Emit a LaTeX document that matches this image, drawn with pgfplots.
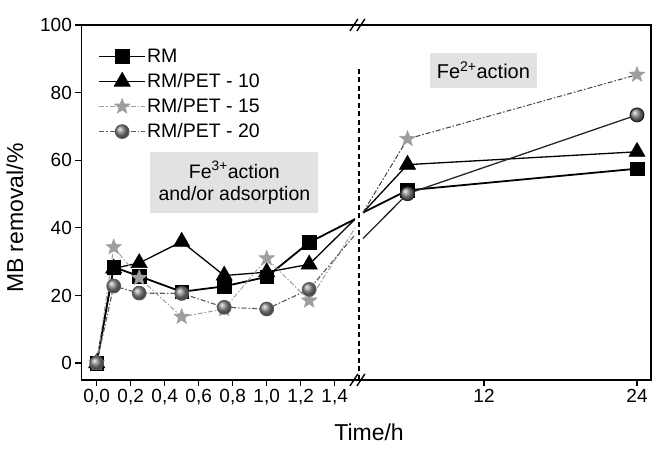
\documentclass[border=0pt]{standalone}
\usepackage{fontspec}
\setmainfont{Liberation Sans}
\usepackage{pgfplots}
\pgfplotsset{compat=1.18}
\definecolor{starcol}{HTML}{9E9E9E}
\definecolor{circcol}{HTML}{8A8A8A}
\definecolor{boxgray}{HTML}{E2E2E2}
\pgfdeclareplotmark{fstar}{%
  \pgfpathmoveto{\pgfpointpolar{90}{\pgfplotmarksize}}%
  \pgfpathlineto{\pgfpointpolar{126}{0.42\pgfplotmarksize}}%
  \pgfpathlineto{\pgfpointpolar{162}{\pgfplotmarksize}}%
  \pgfpathlineto{\pgfpointpolar{198}{0.42\pgfplotmarksize}}%
  \pgfpathlineto{\pgfpointpolar{234}{\pgfplotmarksize}}%
  \pgfpathlineto{\pgfpointpolar{270}{0.42\pgfplotmarksize}}%
  \pgfpathlineto{\pgfpointpolar{306}{\pgfplotmarksize}}%
  \pgfpathlineto{\pgfpointpolar{342}{0.42\pgfplotmarksize}}%
  \pgfpathlineto{\pgfpointpolar{18}{\pgfplotmarksize}}%
  \pgfpathlineto{\pgfpointpolar{54}{0.42\pgfplotmarksize}}%
  \pgfpathclose
  \pgfusepathqfillstroke}
\pgfplotsset{
  common/.style={
    scale only axis, height=355pt, ymin=-5, ymax=100,
    axis line style={draw=none},
    tick style={line width=1.2pt, black},
    major tick length=6pt,
    tick align=outside,
    xtick pos=bottom,
    ticklabel style={font=\fontsize{19}{21}\selectfont},
    legend image code/.code={%
      \draw[##1, mark=none] (0pt,0pt) -- (46pt,0pt);
      \draw[##1] plot coordinates {(23pt,0pt)};},
  },
  sRM/.style={black, line width=1.8pt, mark=square*, mark size=6.8pt, mark options={solid, fill=black, line width=0.6pt}},
  s10/.style={black, line width=1.3pt, mark=triangle*, mark size=9.3pt, mark options={solid, fill=black, line width=0.6pt}},
  s15/.style={starcol, line width=1pt, dash pattern=on 5pt off 2pt on 1.5pt off 2pt, mark=fstar, mark size=8.3pt, mark options={solid, fill=starcol, draw=starcol, line width=0.4pt}},
  s20/.style={black!65, line width=1.1pt, dash pattern=on 5pt off 2pt on 1.5pt off 2pt, mark=ball, mark size=6.8pt, mark options={solid, ball color=circcol}},
}
\begin{document}
\begin{tikzpicture}[x=1pt,y=1pt]
\useasboundingbox (-81.4,-78) rectangle (580.6,380);
% ---------- left part of the broken time axis (0 - 1.5 h)
\begin{axis}[common, name=L, at={(0pt,0pt)}, anchor=south west,
  width=273.7pt, xmin=-0.09, xmax=1.52,
  xtick={0,0.2,0.4,0.6,0.8,1.0,1.2,1.4},
  xticklabels={{0,0},{0,2},{0,4},{0,6},{0,8},{1,0},{1,2},{1,4}},
  ytick={0,20,40,60,80,100}, yticklabels={0,20,40,60,80,100},
  ytick pos=left,
  xlabel={Time/h},
  xlabel style={at={(axis description cs:1.051,-0.146)}, anchor=center, font=\fontsize{23}{26}\selectfont},
  ylabel={MB removal/\%},
  ylabel style={at={(axis description cs:-0.243,0.456)}, anchor=center, font=\fontsize{23}{26}\selectfont},
  legend style={at={(axis description cs:0.05,0.944)}, anchor=north west, draw=none, fill=none,
    font=\fontsize{19.5}{22}\selectfont, row sep=6pt,
    nodes={inner sep=1pt, text height=14pt, text depth=3pt},
    /tikz/every even column/.append style={column sep=5pt}},
  legend cell align=left,
]
\addplot[sRM, mark indices={1,2,3,4,5,6,7}] coordinates {(0,0) (0.1,28.4) (0.25,25.7) (0.5,21.1) (0.75,22.7) (1.0,25.5) (1.25,35.7) (1.52,42.6)};
\addlegendentry{RM}
\addplot[s10, mark indices={1,2,3,4,5,6,7}] coordinates {(0,0) (0.1,28.0) (0.25,29.6) (0.5,35.9) (0.75,25.9) (1.0,26.9) (1.25,29.2) (1.52,42.6)};
\addlegendentry{RM/PET - 10}
\addplot[s15, mark indices={1,2,3,4,5,6,7}] coordinates {(0,0) (0.1,34.3) (0.25,25.2) (0.5,13.7) (0.75,16.0) (1.0,31.0) (1.25,18.5) (1.52,40.0)};
\addlegendentry{RM/PET - 15}
\addplot[s20, mark indices={1,2,3,4,5,6,7}] coordinates {(0,0) (0.1,22.8) (0.25,20.7) (0.5,20.6) (0.75,16.5) (1.0,16.0) (1.25,21.8) (1.52,38.0)};
\addlegendentry{RM/PET - 20}
\pgfplotsinvokeforeach{0,0.2,0.4,0.6,0.8,1.0,1.2,1.4}{\draw[line width=1.2pt] (axis cs:#1,100) -- ++(0,-7pt);}
\node[fill=boxgray, minimum width=168pt, minimum height=61pt, align=center, inner sep=0pt,
  font=\fontsize{19.5}{22}\selectfont] at (axis cs:0.81,53.3) {Fe\textsuperscript{3+}action\\and/or adsorption};
\end{axis}
% ---------- right part of the broken time axis (2.5 - 25 h)
\begin{axis}[common, name=R, at={(281.5pt,0pt)}, anchor=south west,
  width=288.15pt, xmin=2.5, xmax=25.1,
  xtick={12,24}, xticklabels={12,24},
  ytick=\empty,
]
\addplot[sRM, mark indices={2,3}] coordinates {(2.5,44.5) (6,51.1) (24,57.5)};
\addplot[s10, mark indices={2,3}] coordinates {(2.5,44.5) (6,58.7) (24,62.5)};
\addplot[s15, black!75, mark indices={2,3}] coordinates {(2.5,44.5) (6,66.3) (24,85.3)};
\addplot[s20, solid, black!85, line width=1.3pt, mark indices={2,3}] coordinates {(2.5,36.8) (6,50.1) (24,73.4)};
\pgfplotsinvokeforeach{12,24}{\draw[line width=1.2pt] (axis cs:#1,100) -- ++(0,-7pt);}
\node[fill=boxgray, minimum width=107pt, minimum height=35pt, align=center, inner sep=0pt,
  font=\fontsize{20}{22}\selectfont] at (axis cs:11.95,86.6) {Fe\textsuperscript{2+}action};
\end{axis}
% frame, break marks and the dashed separator
\draw[line width=1.6pt] (0,0) rectangle (569.65,355);
\foreach \xx in {272.5,279.5} {
  \draw[line width=1.4pt] (\xx-4,-6) -- (\xx+4,6);
  \draw[line width=1.4pt] (\xx-4,349) -- (\xx+4,361);
}
\draw[line width=1.5pt, dash pattern=on 5pt off 3.5pt] (277.5,0) -- (277.5,313);
\end{tikzpicture}
\end{document}
